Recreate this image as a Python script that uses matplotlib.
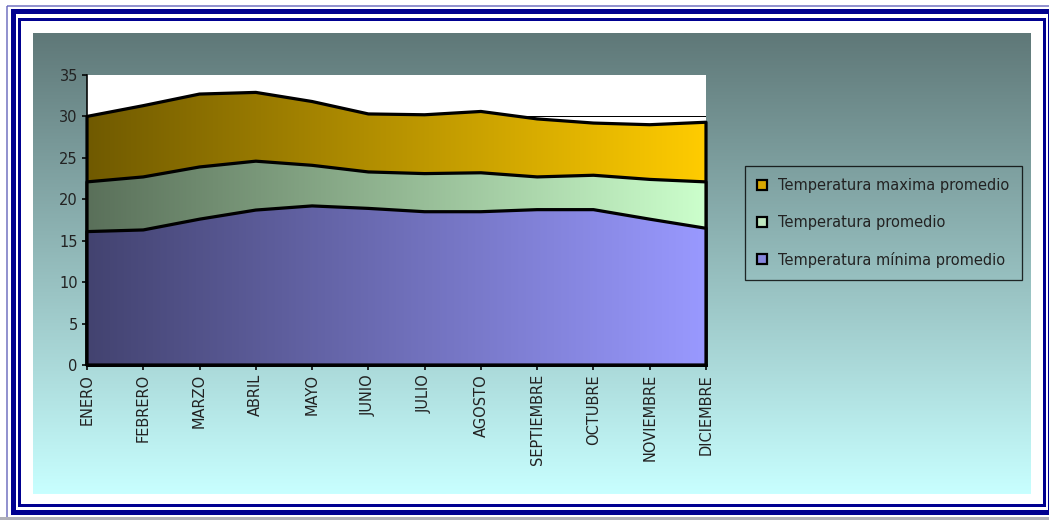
import numpy as np
import matplotlib
matplotlib.use("Agg")
import matplotlib.pyplot as plt
from matplotlib.patches import Polygon, Rectangle, Patch
from matplotlib.colors import to_rgb

# datos
meses = ["ENERO", "FEBRERO", "MARZO", "ABRIL", "MAYO", "JUNIO", "JULIO",
         "AGOSTO", "SEPTIEMBRE", "OCTUBRE", "NOVIEMBRE", "DICIEMBRE"]
t_max = [30.0, 31.3, 32.7, 32.9, 31.8, 30.3, 30.2, 30.6, 29.7, 29.2, 29.0, 29.3]
t_med = [22.1, 22.7, 23.9, 24.6, 24.1, 23.3, 23.1, 23.2, 22.7, 22.9, 22.4, 22.1]
t_min = [16.1, 16.3, 17.6, 18.7, 19.2, 18.9, 18.5, 18.5, 18.75, 18.75, 17.6, 16.5]

series = [
    ("Temperatura maxima promedio", t_max, "#705a00", "#ffcc00", "#d8a800"),
    ("Temperatura promedio", t_med, "#5a705a", "#ccffcc", "#bfe8bf"),
    ("Temperatura mínima promedio", t_min, "#434370", "#9999ff", "#8686dd"),
]

W, H = 1049, 520
fig = plt.figure(figsize=(W / 100, H / 100), dpi=100)
fig.patch.set_facecolor("white")

# fondo: marco doble azul + area del grafico con degradado
bg = fig.add_axes([0, 0, 1, 1])
bg.axis("off")

px = 0.72  # 1 pixel en puntos
bg.add_patch(Rectangle((6.5, 5.5), 1050, 512.5, fill=False, ec="#7070c0", lw=1.5 * px))
bg.add_patch(Rectangle((12.5, 10.5), 1037, 501, fill=False, ec="#000090", lw=5 * px))
bg.add_patch(Rectangle((19, 18.5), 1024.5, 486, fill=False, ec="#000090", lw=3 * px))
bg.add_patch(Rectangle((0, 517), W, 3, fc="#b0b0b8", ec="none"))

top_c = np.array(to_rgb("#5f7878"))
bot_c = np.array(to_rgb("#c8ffff"))
t = np.linspace(0, 1, 256)[:, None]
grad = (top_c * (1 - t) + bot_c * t)[:, None, :]
bg.imshow(grad, extent=(33, 1031, 494, 33), aspect="auto", interpolation="bilinear", zorder=1)
bg.set_xlim(0, W)
bg.set_ylim(H, 0)

# area de trazado
ax = fig.add_axes([87 / W, 1 - 365 / H, (706 - 87) / W, (365 - 75) / H])
ax.set_facecolor("white")
x = np.arange(len(meses))

ax.axhline(30, color="black", lw=1 * px, zorder=0.5)

for i, (nombre, vals, c0, c1, _) in enumerate(series):
    verts = np.vstack([np.column_stack([x, vals]),
                       [[x[-1], 0], [x[0], 0]]])
    poly = Polygon(verts, closed=True, fc="none", ec="black",
                   lw=3.2 * px, joinstyle="round", zorder=i + 1.5, clip_on=False)
    ax.add_patch(poly)
    s = np.linspace(0, 1, 256)[None, :, None]
    g = np.array(to_rgb(c0)) * (1 - s) + np.array(to_rgb(c1)) * s
    im = ax.imshow(g, extent=(x[0], x[-1], 0, 35), aspect="auto",
                   interpolation="bilinear", zorder=i + 1)
    im.set_clip_path(poly)

ax.set_xlim(0, len(meses) - 1)
ax.set_ylim(0, 35)

for side in ["top", "right"]:
    ax.spines[side].set_visible(False)
ax.spines["left"].set_linewidth(1.6 * px)
ax.spines["bottom"].set_linewidth(3 * px)
ax.spines["left"].set_zorder(10)

ax.set_yticks(np.arange(0, 36, 5))
ax.set_xticks(x)
ax.set_xticklabels(meses, rotation=90, va="top", ha="center")
ax.tick_params(axis="both", direction="out", length=5 * px, width=1.6 * px,
               labelsize=10.5, colors="black", labelcolor="#222222", pad=3)

handles = [Patch(fc=hc, ec="black", lw=2.2 * px) for _, _, _, _, hc in series]
labels = [n for n, _, _, _, _ in series]
leg = fig.legend(handles, labels, loc="upper left",
                 bbox_to_anchor=(745 / W, 1 - 166 / H), bbox_transform=fig.transFigure,
                 fontsize=10.5, frameon=True, fancybox=False,
                 edgecolor="black", handlelength=0.68, handleheight=0.68,
                 handletextpad=0.75, labelspacing=1.48, borderpad=0.85, borderaxespad=0)
leg.get_frame().set_facecolor("none")
leg.get_frame().set_linewidth(1.3 * px)
for txt in leg.get_texts():
    txt.set_color("#222222")

fig.savefig("out.png", dpi=100)
